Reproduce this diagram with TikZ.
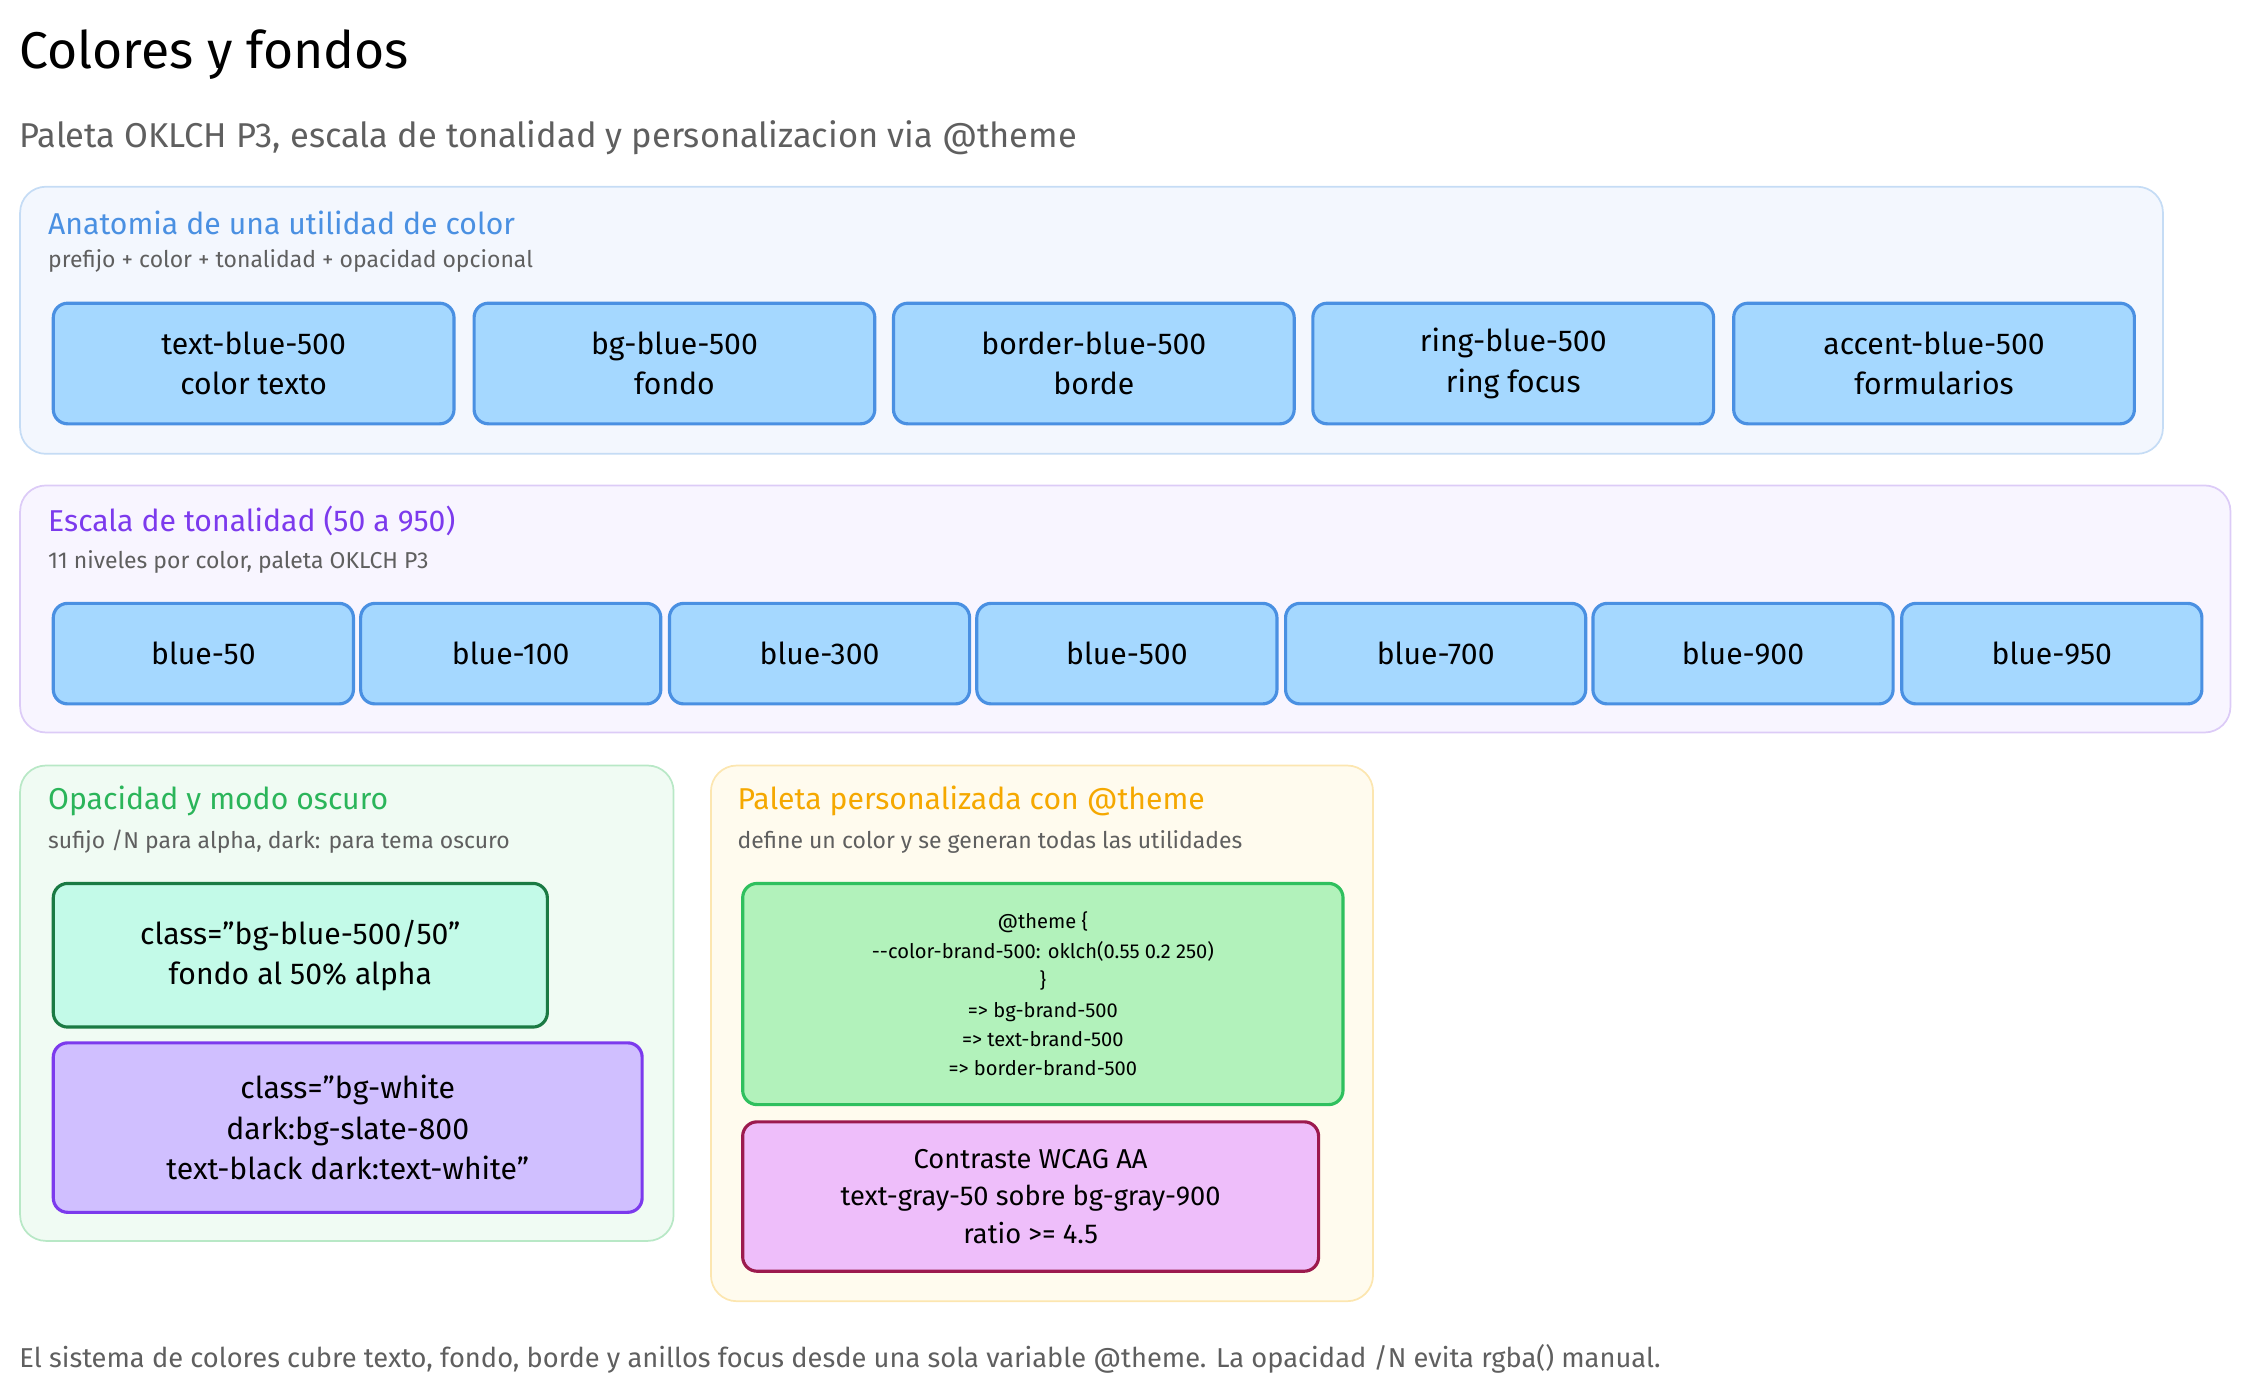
\documentclass[tikz,border=0pt]{standalone}
\usepackage{fontspec}
\setmainfont{Fira Sans}
\usetikzlibrary{positioning}
\definecolor{inkgray}{HTML}{5F5F5F}
\definecolor{boxfill}{HTML}{A5D8FF}
\definecolor{boxline}{HTML}{4A90E2}
\definecolor{anaback}{HTML}{F3F7FE}
\definecolor{anaedge}{HTML}{C5DCF5}
\definecolor{scaletext}{HTML}{7C3AED}
\definecolor{scaleback}{HTML}{F8F5FF}
\definecolor{scaleedge}{HTML}{DCCBF7}
\definecolor{optext}{HTML}{2BB55A}
\definecolor{opback}{HTML}{F0FBF3}
\definecolor{opedge}{HTML}{B8E8C6}
\definecolor{alphafill}{HTML}{C3FAE8}
\definecolor{alphaline}{HTML}{1A7A43}
\definecolor{darkfill}{HTML}{D0BFFF}
\definecolor{themetext}{HTML}{F5A800}
\definecolor{themeback}{HTML}{FFFBEE}
\definecolor{themeedge}{HTML}{FCE6B0}
\definecolor{codefill}{HTML}{B2F2BB}
\definecolor{codeline}{HTML}{2FC05E}
\definecolor{contrastfill}{HTML}{EEBEFA}
\definecolor{contrastline}{HTML}{9C1A4E}
\newcommand{\qq}{\symbol{34}}
\begin{document}
\begin{tikzpicture}[x=1pt, y=-1pt,
	panel/.style = {rounded corners = 18pt, line width = 1.2pt},
	util/.style = {draw = boxline, fill = boxfill, rounded corners = 10pt, line width = 2.2pt, align = center, font = \fontsize{21}{28}\selectfont},
	head/.style = {anchor = west, font = \fontsize{21}{24}\selectfont},
	sub/.style = {anchor = west, text = inkgray, font = \fontsize{16}{19}\selectfont}]

	\useasboundingbox (0, 0) rectangle (1568, 974);

	% Title
	
	\node (title) [anchor = west, font = \fontsize{36}{40}\selectfont] at (10, 38) {Colores y fondos};
	\node (subtitle) [anchor = west, text = inkgray, font = \fontsize{24}{28}\selectfont] at (10, 96) {Paleta OKLCH P3, escala de tonalidad y personalizacion via @theme};

	% Anatomy panel
	
	\draw [panel, draw = anaedge, fill = anaback] (14, 130) rectangle (1506, 316);
	\node (anahead) [head, text = boxline] at (30, 155) {Anatomia de una utilidad de color};
	\node (anasub) [sub] at (30, 182) {prefijo + color + tonalidad + opacidad opcional};
	\foreach \x/\name/\txt in {36/text/color texto, 329/bg/fondo, 621/border/borde, 913/ring/ring focus, 1206/accent/formularios}
		\node (\name) [util, minimum width = 279pt, minimum height = 84pt, anchor = north west] at (\x, 210) {\name-blue-500\\\txt};

	% Scale panel
	
	\draw [panel, draw = scaleedge, fill = scaleback] (14, 338) rectangle (1553, 510);
	\node (scalehead) [head, text = scaletext] at (30, 363) {Escala de tonalidad (50 a 950)};
	\node (scalesub) [sub] at (30, 391) {11 niveles por color, paleta OKLCH P3};
	\foreach \x/\lvl in {36/50, 250/100, 465/300, 679/500, 894/700, 1108/900, 1323/950}
		\node (blue\lvl) [util, minimum width = 209pt, minimum height = 70pt, anchor = north west] at (\x, 419) {blue-\lvl};

	% Opacity panel
	
	\draw [panel, draw = opedge, fill = opback] (14, 533) rectangle (469, 864);
	\node (ophead) [head, text = optext] at (30, 558) {Opacidad y modo oscuro};
	\node (opsub) [sub] at (30, 586) {sufijo /N para alpha, dark: para tema oscuro};
	\node (alpha) [util, draw = alphaline, fill = alphafill, minimum width = 344pt, minimum height = 100pt, anchor = north west] at (36, 614) {class=\qq bg-blue-500/50\qq\\fondo al 50\% alpha};
	\node (dark) [util, draw = scaletext, fill = darkfill, minimum width = 410pt, minimum height = 118pt, anchor = north west] at (36, 725) {class=\qq bg-white\\dark:bg-slate-800\\text-black dark:text-white\qq};

	% Theme panel
	
	\draw [panel, draw = themeedge, fill = themeback] (495, 533) rectangle (956, 906);
	\node (themehead) [head, text = themetext] at (510, 558) {Paleta personalizada con @theme};
	\node (themesub) [sub] at (510, 586) {define un color y se generan todas las utilidades};
	\node (code) [util, draw = codeline, fill = codefill, minimum width = 418pt, minimum height = 154pt, anchor = north west, font = \fontsize{14}{20.5}\selectfont] at (516, 614) {@theme \{\\-{}-color-brand-500: oklch(0.55 0.2 250)\\\}\\=> bg-brand-500\\=> text-brand-500\\=> border-brand-500};
	\node (contrast) [util, draw = contrastline, fill = contrastfill, minimum width = 401pt, minimum height = 104pt, anchor = north west, font = \fontsize{19}{26}\selectfont] at (516, 780) {Contraste WCAG AA\\text-gray-50 sobre bg-gray-900\\ratio >= 4.5};

	% Footer
	
	\node (footer) [anchor = west, text = inkgray, font = \fontsize{19}{22}\selectfont] at (10, 946) {El sistema de colores cubre texto, fondo, borde y anillos focus desde una sola variable @theme. La opacidad /N evita rgba() manual.};

\end{tikzpicture}
\end{document}
